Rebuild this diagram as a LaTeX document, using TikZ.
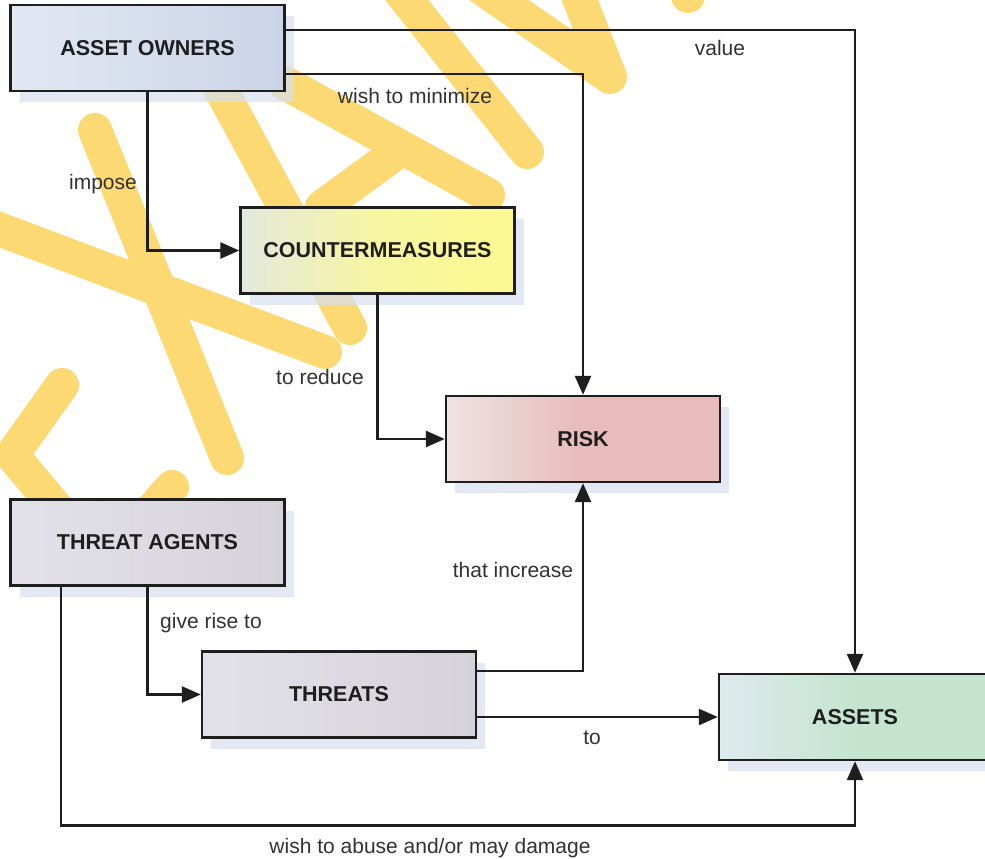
\documentclass[tikz,border=0pt]{standalone}
\usepackage{fontspec}
\setmainfont{Liberation Sans}
\usetikzlibrary{arrows.meta,shadows}
\definecolor{wm}{RGB}{253,217,115}
\definecolor{shadowc}{RGB}{214,224,241}
\definecolor{aoL}{RGB}{226,231,242}
\definecolor{aoR}{RGB}{203,213,232}
\definecolor{cmL}{RGB}{228,232,222}
\definecolor{cmR}{RGB}{252,249,145}
\definecolor{rkL}{RGB}{238,226,228}
\definecolor{rkR}{RGB}{231,188,187}
\definecolor{taL}{RGB}{226,225,233}
\definecolor{taR}{RGB}{214,210,218}
\definecolor{asL}{RGB}{222,234,238}
\definecolor{asR}{RGB}{196,228,207}
\definecolor{ink}{RGB}{30,30,30}
\definecolor{lblc}{RGB}{50,50,50}
\tikzset{
  box/.style={draw=ink, line width=2.4pt, minimum width=274pt, minimum height=86pt,
    inner sep=0pt, font=\fontsize{21.5}{24}\selectfont\bfseries, text=ink,
    drop shadow={shadow xshift=9pt, shadow yshift=-11pt, fill=shadowc, opacity=0.7}},
  lbl/.style={font=\fontsize{21}{24}\selectfont, text=lblc, inner sep=0pt},
  conn/.style={line width=2.6pt, draw=ink, -{Triangle[length=19pt,width=16pt]}},
  wmk/.style={line width=34pt, draw=wm, line cap=round, line join=round},
}
\begin{document}
\begin{tikzpicture}[x=1pt,y=-1pt]
\clip (0,0) rectangle (985,859);
\fill[white] (0,0) rectangle (985,859);
% watermark strokes
\draw[wmk] (95,130) -- (227,458);
\draw[wmk] (-20,222) -- (325,352);
\draw[wmk] (62,385) -- (12,455) -- (75,530);
\draw[wmk] (172,487) -- (130,535);
\draw[wmk] (205,60) -- (350,328);
\draw[wmk] (285,83) -- (488,195);
\draw[wmk] (322,207) -- (400,150);
\draw[wmk] (395,-15) -- (527,152);
\draw[wmk] (470,-20) -- (610,77) -- (572,-20);
\fill[wm] (688,-4) circle (17);
% boxes
\node[box, left color=aoL, right color=aoR] (ao) at (147.5,48) {ASSET OWNERS};
\node[box, left color=cmL, right color=cmR, middle color=cmR!80!cmL] (cm) at (377.5,250.5) {COUNTERMEASURES};
\node[box, left color=rkL, right color=rkR, middle color=rkR] (risk) at (583,439) {RISK};
\node[box, left color=taL, right color=taR] (ta) at (147.5,542.5) {THREAT AGENTS};
\node[box, left color=taL, right color=taR] (th) at (339,694.5) {THREATS};
\node[box, minimum width=272pt, left color=asL, right color=asR, middle color=asR] (assets) at (855,717) {ASSETS};
% connectors
\draw[conn] ([yshift=18pt]ao.east) -| (assets.north);
\draw[conn] ([yshift=-26pt]ao.east) -| (risk.north);
\draw[conn] (ao.south) |- (cm.west);
\draw[conn] (cm.south) |- (risk.west);
\draw[conn] (ta.south) |- (th.west);
\draw[conn] ([xshift=-86.5pt]ta.south) |- ([yshift=-64pt]assets.south) -| (assets.south);
\draw[conn] ([yshift=23.5pt]th.east) -| (risk.south);
\draw[conn] (th.east |- assets.west) -- (assets.west);
% labels
\node[lbl] (lvalue) at (720,48) {value};
\node[lbl] (lmin) at (415,96) {wish to minimize};
\node[lbl] (limp) at (103,184) {impose};
\node[lbl] (lred) at (320,377) {to reduce};
\node[lbl] (lgive) at (211,623) {give rise to};
\node[lbl] (linc) at (513,570) {that increase};
\node[lbl] (lto) at (592,738) {to};
\node[lbl] (labuse) at (430,848) {wish to abuse and/or may damage};
\end{tikzpicture}
\end{document}
